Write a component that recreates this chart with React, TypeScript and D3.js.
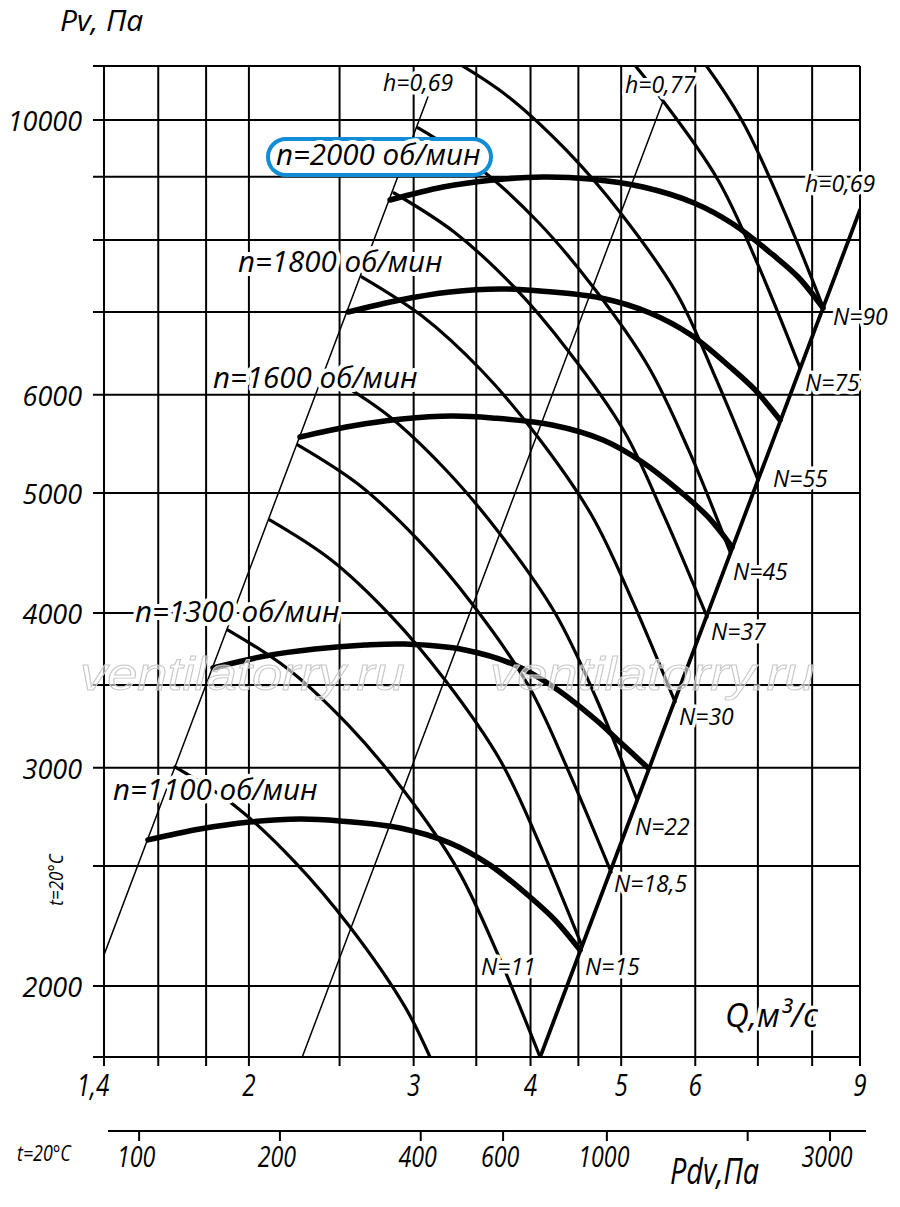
import * as d3 from "d3";

// ---- axes / grid values ----
const qGrid = [1.4, 1.6, 1.8, 2, 2.5, 3, 3.5, 4, 4.5, 5, 6, 7, 8, 9];
const qTickLabels: [number, string][] = [
  [1.4, "1,4"], [2, "2"], [3, "3"], [4, "4"], [5, "5"], [6, "6"], [9, "9"],
];
const pGrid = [10000, 9000, 8000, 7000, 6000, 5000, 4000, 3500, 3000, 2500, 2000];
const pTickLabels = [10000, 6000, 5000, 4000, 3000, 2000];
const pdvTicks = [100, 200, 400, 600, 1000, 2000, 3000];
const pdvTickLabels = [100, 200, 400, 600, 1000, 3000];

// ---- fan curves P(Q) at constant speed, [Q m3/s, Pv Pa] ----
const n1100 = [[1.56, 2624], [1.773, 2678], [2.005, 2713], [2.268, 2728], [2.503, 2718], [2.901, 2683], [3.281, 2609], [3.621, 2504], [3.995, 2360], [4.249, 2261], [4.519, 2138]];
const n1300 = [[1.831, 3612], [2.081, 3693], [2.353, 3741], [2.662, 3769], [2.937, 3776], [3.405, 3735], [3.85, 3632], [4.249, 3480], [4.7, 3279], [4.998, 3142], [5.342, 2999]];
const n1600 = [[2.268, 5548], [2.578, 5663], [2.915, 5737], [3.297, 5769], [3.639, 5748], [4.218, 5673], [4.782, 5517], [5.264, 5296], [5.823, 4990], [6.192, 4782], [6.569, 4522]];
const n1800 = [[2.553, 6999], [2.901, 7157], [3.281, 7264], [3.711, 7305], [4.095, 7278], [4.758, 7183], [5.368, 6986], [5.938, 6706], [6.537, 6319], [6.952, 6055], [7.393, 5726]];
const n2000 = [[2.831, 8618], [3.225, 8829], [3.647, 8945], [4.125, 8995], [4.631, 8962], [5.277, 8829], [5.982, 8571], [6.585, 8243], [7.267, 7781], [7.728, 7469], [8.218, 7051]];

const speedCurves = [
  { text: "n=1100 об/мин", pts: n1100 },
  { text: "n=1300 об/мин", pts: n1300 },
  { text: "n=1600 об/мин", pts: n1600 },
  { text: "n=1800 об/мин", pts: n1800 },
  { text: "n=2000 об/мин", pts: n2000 },
];

// ---- power lines N = const, kW ----
const nPow75 = [[1.667, 3005], [1.933, 2795], [2.24, 2518], [2.565, 2232], [2.937, 1924], [3.123, 1753]];
const nPow11 = [[1.9, 3876], [2.202, 3605], [2.553, 3249], [2.923, 2880], [3.346, 2481], [3.693, 2119], [4.095, 1753]];
const nPow15 = [[2.107, 4755], [2.442, 4423], [2.831, 3985], [3.241, 3532], [3.711, 3044], [4.095, 2599], [4.541, 2154]];
const nPow185 = [[2.257, 5466], [2.616, 5084], [3.033, 4582], [3.472, 4060], [3.976, 3499], [4.387, 2988], [4.877, 2472]];
const nPow22 = [[2.412, 6237], [2.796, 5801], [3.241, 5228], [3.711, 4633], [4.249, 4000], [4.7, 3416], [5.199, 2826]];
const nPow30 = [[2.642, 7469], [3.063, 6947], [3.55, 6272], [4.065, 5558], [4.654, 4791], [5.136, 4098], [5.709, 3391]];
const nPow37 = [[2.859, 8731], [3.314, 8121], [3.841, 7332], [4.398, 6498], [5.035, 5610], [5.557, 4791], [6.177, 3971]];
const nPow45 = [[3.033, 9852], [3.515, 9164], [4.075, 8273], [4.666, 7332], [5.342, 6331], [5.909, 5406], [6.537, 4481]];
const nPow55 = [[3.249, 11263], [3.766, 10476], [4.366, 9458], [5.011, 8382], [5.737, 7237], [6.315, 6180], [7.003, 5122]];
const nPow75b = [[3.603, 13921], [4.176, 12947], [4.853, 11690], [5.543, 10359], [6.346, 8945], [7.003, 7638], [7.766, 6307]];
const nPow90 = [[3.813, 15592], [4.42, 14502], [5.123, 13093], [5.88, 11603], [6.716, 10019], [7.411, 8554], [8.218, 7064]];

const powerCurves = [
  { text: "", pts: nPow75 },
  { text: "N=11", pts: nPow11 },
  { text: "N=15", pts: nPow15 },
  { text: "N=18,5", pts: nPow185 },
  { text: "N=22", pts: nPow22 },
  { text: "N=30", pts: nPow30 },
  { text: "N=37", pts: nPow37 },
  { text: "N=45", pts: nPow45 },
  { text: "N=55", pts: nPow55 },
  { text: "N=75", pts: nPow75b },
  { text: "N=90", pts: nPow90 },
];

// ---- efficiency lines (P ~ Q^2) ----
const etaLeft = [[1.4, 2119], [3.107, 10437]];
const etaMid = [[2.28, 1752], [5.548, 10379]];
const etaRight = [[4.095, 1752], [9, 8460]];

// label layout (pixels, offsets from curve ends)
const powerLabelOffset: Record<string, [number, number]> = {
  "N=11": [-59, -82], "N=15": [3, 29], "N=18,5": [3, 20], "N=22": [-2, 35],
  "N=30": [4, 23], "N=37": [4, 23], "N=45": [3, 28], "N=55": [15, 7],
  "N=75": [5, 23], "N=90": [10, 18],
};
const speedLabelPos: Record<string, [number, number]> = {
  "n=1100 об/мин": [113, 800], "n=1300 об/мин": [135, 622], "n=1600 об/мин": [213, 388],
  "n=1800 об/мин": [238, 272], "n=2000 об/мин": [276, 165],
};

const FONT = "'Open Sans', 'DejaVu Sans', sans-serif";
const MARK = "'Liberation Sans', Arial, sans-serif";

export default function App() {
  const x = d3.scaleLog().domain([1.4, 9]).range([104, 860]);
  const y = d3.scaleLog().domain([1753, 11055]).range([1057, 66]);
  const xPdv = d3.scaleLog().domain([85.8, 3581]).range([108, 866]);
  const [px0, px1] = x.range();
  const [py1, py0] = y.range();

  const line = d3
    .line<number[]>()
    .x((d) => x(d[0]))
    .y((d) => y(d[1]))
    .curve(d3.curveCatmullRom.alpha(0.5));

  const halo = {
    stroke: "#fff",
    strokeWidth: 7,
    paintOrder: "stroke" as const,
    strokeLinejoin: "round" as const,
  };

  // condensed italic text (horizontal squeeze)
  const narrow = (
    tx: number,
    ty: number,
    s: string,
    size: number,
    sx = 0.8,
    anchor: "start" | "middle" = "start"
  ) => (
    <text
      key={s + tx}
      transform={`translate(${tx},${ty}) scale(${sx},1)`}
      fontFamily={FONT}
      fontStyle="italic"
      fontSize={size}
      textAnchor={anchor}
    >
      {s}
    </text>
  );

  return (
    <svg
      width={900}
      height={1207}
      viewBox="0 0 900 1207"
      style={{ position: "absolute", left: 0, top: 0, background: "#fff" }}
    >
      <defs>
        <clipPath id="plot">
          <rect x={px0} y={py0} width={px1 - px0} height={py1 - py0} />
        </clipPath>
      </defs>
      <rect width={900} height={1207} fill="#fff" />

      {/* grid */}
      <g stroke="#000" strokeWidth={2}>
        {qGrid.map((q) => (
          <line key={"v" + q} x1={x(q)} x2={x(q)} y1={py0} y2={py1 + 9} />
        ))}
        {[...pGrid, y.domain()[1], y.domain()[0]].map((p) => (
          <line key={"h" + p} x1={px0 - 11} x2={px1} y1={y(p)} y2={y(p)} />
        ))}
      </g>

      {/* efficiency lines and power curves */}
      <g clipPath="url(#plot)" fill="none" stroke="#000" strokeLinecap="round">
        <path d={line(etaLeft) ?? ""} strokeWidth={1.5} />
        <path d={line(etaMid) ?? ""} strokeWidth={1.5} />
        {powerCurves.map((c, i) => (
          <path key={i} d={line(c.pts) ?? ""} strokeWidth={3.2} />
        ))}
        {speedCurves.map((c) => (
          <path key={c.text} d={line(c.pts) ?? ""} strokeWidth={5.5} />
        ))}
        <path d={line(etaRight) ?? ""} strokeWidth={3.8} />
      </g>

      {/* watermark */}
      <g
        fontFamily={MARK}
        fontStyle="italic"
        fontSize={46}
        fill="#fff"
        fillOpacity={0.55}
        stroke="#c8c8c8"
        strokeWidth={1}
      >
        <text transform="translate(80,690) scale(1.18,1)">ventilatorry.ru</text>
        <text transform="translate(490,690) scale(1.18,1)">ventilatorry.ru</text>
      </g>

      {/* power labels */}
      <g fontFamily={FONT} fontStyle="italic" fontSize={23} fill="#000" {...halo}>
        {powerCurves
          .filter((c) => c.text)
          .map((c) => {
            const end = c.pts[c.pts.length - 1];
            const [dx, dy] = powerLabelOffset[c.text];
            return (
              <text key={c.text} x={x(end[0]) + dx} y={y(end[1]) + dy}>
                {c.text}
              </text>
            );
          })}
        <text x={383} y={91}>h=0,69</text>
        <text x={625} y={93}>h=0,77</text>
        <text x={805} y={192}>h=0,69</text>
      </g>

      {/* speed labels */}
      <rect x={268} y={139} width={223} height={36} rx={18} fill="#fff" stroke="#118dd8" strokeWidth={4} />
      <g fontFamily={FONT} fontStyle="italic" fontSize={29.5} fill="#000" {...halo} strokeWidth={8}>
        {speedCurves.map((c) => {
          const [lx, ly] = speedLabelPos[c.text];
          return (
            <text key={c.text} x={lx} y={ly}>
              {c.text}
            </text>
          );
        })}
      </g>

      {/* y axis labels */}
      <g fontFamily={FONT} fontStyle="italic" fontSize={27} textAnchor="end">
        {pTickLabels.map((p) => (
          <text key={p} x={82} y={y(p) + 11}>
            {p}
          </text>
        ))}
      </g>
      <text x={60} y={31} fontFamily={FONT} fontStyle="italic" fontSize={30}>
        Pv, Па
      </text>
      <text
        fontFamily={FONT}
        fontStyle="italic"
        fontSize={20}
        textAnchor="middle"
        transform="translate(63,880) rotate(-90) scale(0.85,1)"
      >
        t=20°C
      </text>

      {/* Q axis */}
      <g>
        {qTickLabels.map(([q, t], i) =>
          narrow(x(q) - (i === 0 ? 11 : 0), 1096, t, 31, 0.78, "middle")
        )}
      </g>
      <text x={725} y={1027} fontFamily={FONT} fontStyle="italic" fontSize={33} {...halo}>
        Q,м³/с
      </text>

      {/* Pdv axis */}
      <g stroke="#000" strokeWidth={2}>
        <line x1={108} x2={866} y1={1131} y2={1131} />
        {pdvTicks.map((v) => (
          <line key={v} x1={xPdv(v)} x2={xPdv(v)} y1={1131} y2={1141} />
        ))}
      </g>
      <g>
        {pdvTickLabels.map((v) => narrow(xPdv(v) - 3, 1167, String(v), 29, 0.8, "middle"))}
      </g>
      {narrow(17, 1161, "t=20°C", 21, 0.85)}
      {narrow(670, 1184, "Pdv,Па", 36, 0.8)}
    </svg>
  );
}
